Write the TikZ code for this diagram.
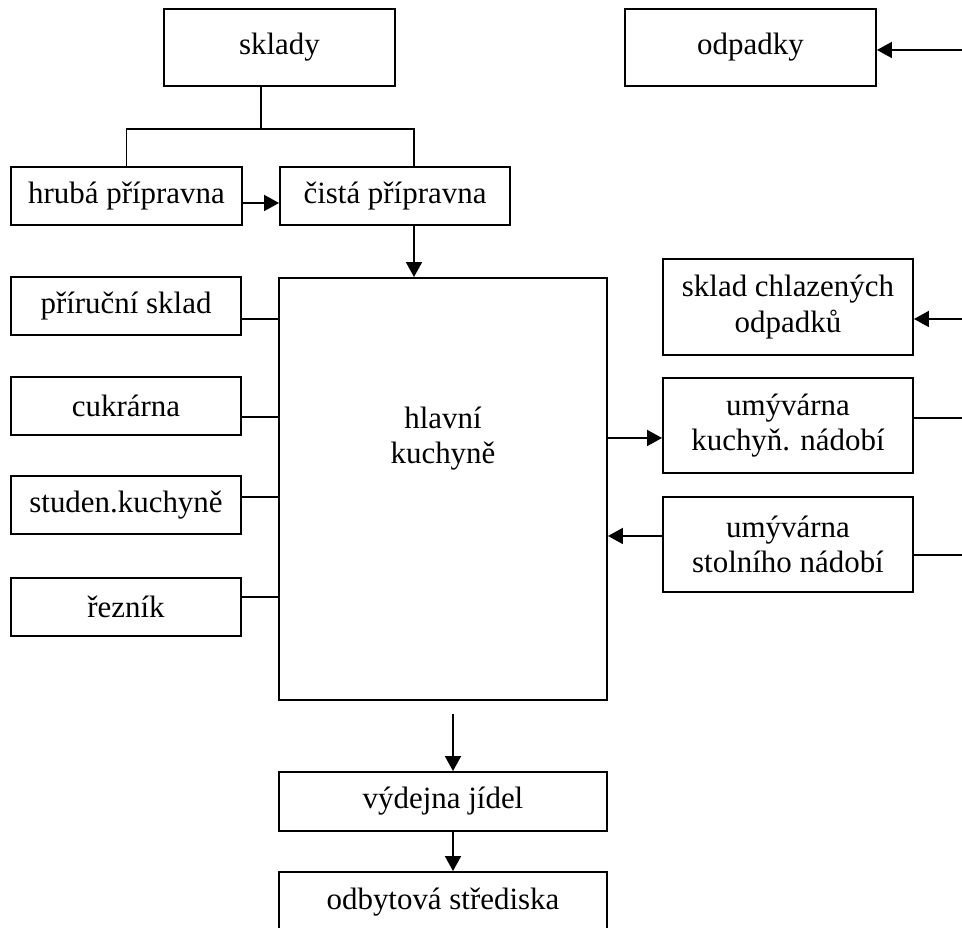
\documentclass[tikz,border=0pt]{standalone}
\usepackage{fontspec}
\setmainfont{Liberation Serif}
\usetikzlibrary{arrows.meta,calc}

\begin{document}
\begin{tikzpicture}[
  lbl/.style={align=center, font=\fontsize{17.6}{20}\selectfont},
  box/.style={lbl, draw, line width=1.1pt, minimum width=4.60cm, minimum height=1.16cm, inner sep=2pt},
  link/.style={line width=1.1pt},
  arr/.style={line width=1.1pt, -{Triangle[length=0.3cm,width=0.32cm]}}
]
  \useasboundingbox (0,0) rectangle (19.24,18.56);

  %% Top row
  \node[box, minimum width=4.62cm, minimum height=1.54cm] (sklady) at (5.59,17.61) {sklady};
  \node[box, minimum width=5.02cm, minimum height=1.54cm] (odp) at (15.01,17.61) {odpadky};

  %% Preparation rooms
  \node[box, minimum width=4.62cm] (hruba) at (2.53,14.64) {hrubá přípravna};
  \node[box] (cista) at (7.90,14.64) {čistá přípravna};

  %% Left column
  \node[box] (pri)  at (2.52,12.44) {příruční sklad};
  \node[box] (cuk)  at (2.52,10.44) {cukrárna};
  \node[box] (stud) at (2.52,8.46)  {studen.kuchyně};
  \node[box] (rez)  at (2.52,6.42)  {řezník};

  %% Main kitchen
  \node[box, minimum width=6.56cm, minimum height=8.44cm] (main) at (8.86,8.78) {};
  \node[lbl] (mainlbl) at (8.86,9.78) {hlavní\\kuchyně};

  %% Right column
  \node[box, minimum width=5.0cm, minimum height=1.92cm] (chlaz) at (15.76,12.42) {sklad chlazených\\odpadků};
  \node[box, minimum width=5.0cm, minimum height=1.90cm] (umk)   at (15.76,10.05) {umývárna\\kuchyň. nádobí};
  \node[box, minimum width=5.0cm, minimum height=1.90cm] (ums)   at (15.76,7.67)  {umývárna\\stolního nádobí};

  %% Bottom
  \node[box, minimum width=6.56cm, minimum height=1.18cm] (vydej) at (8.86,2.53) {výdejna jídel};
  \node[box, minimum width=6.56cm, minimum height=1.20cm] (odbyt) at (8.86,0.52) {odbytová střediska};

  %% Free ends
  \coordinate (split) at (5.22,15.98);
  \coordinate (rim) at (19.30,0);

  %% Supply branch
  \draw[link] ([xshift=-0.37cm]sklady.south) -- (split);
  \draw[link] (hruba.north) |- (split) -| ([xshift=0.38cm]cista.north);
  \draw[arr] ([yshift=-0.14cm]hruba.east) -- ([yshift=-0.14cm]cista.west);
  \draw[arr] ([xshift=0.38cm]cista.south) -- ([xshift=0.38cm]cista.south |- main.north);

  %% Left links
  \draw[link] ([yshift=-0.26cm]pri.east) -- ([yshift=-0.26cm]pri.east -| main.west);
  \draw[link] ([yshift=-0.22cm]cuk.east) -- ([yshift=-0.22cm]cuk.east -| main.west);
  \draw[link] ([yshift=0.16cm]stud.east) -- ([yshift=0.16cm]stud.east -| main.west);
  \draw[link] ([yshift=0.20cm]rez.east) -- ([yshift=0.20cm]rez.east -| main.west);

  %% Right links
  \draw[arr] ([yshift=-0.25cm]main.east |- umk.west) -- ([yshift=-0.25cm]umk.west);
  \draw[arr] ([yshift=0.17cm]ums.west) -- ([yshift=0.17cm]main.east |- ums.west);
  \draw[arr] ([yshift=-0.05cm]rim |- odp.east) -- ([yshift=-0.05cm]odp.east);
  \draw[arr] ([yshift=-0.24cm]rim |- chlaz.east) -- ([yshift=-0.24cm]chlaz.east);
  \draw[link] ([yshift=0.15cm]umk.east) -- ([yshift=0.15cm]rim |- umk.east);
  \draw[link] ([yshift=-0.21cm]ums.east) -- ([yshift=-0.21cm]rim |- ums.east);

  %% Serving
  \draw[arr] ([xshift=0.2cm,yshift=-0.26cm]main.south) -- ([xshift=0.2cm]vydej.north);
  \draw[arr] ([xshift=0.2cm]vydej.south) -- ([xshift=0.2cm]odbyt.north);
\end{tikzpicture}
\end{document}
